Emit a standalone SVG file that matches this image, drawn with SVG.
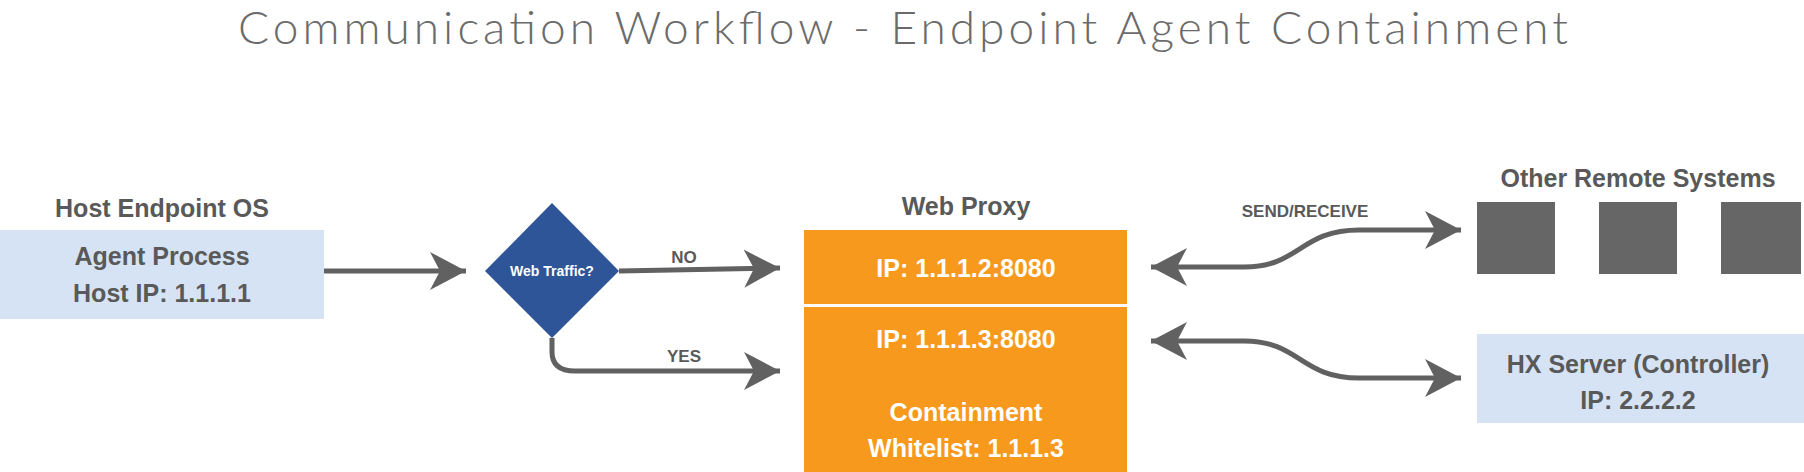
<svg xmlns="http://www.w3.org/2000/svg" width="1804" height="472" viewBox="0 0 1804 472">
<defs>
<style>
.t{font-family:"Liberation Sans",Arial,sans-serif;font-weight:bold;fill:#595959;text-anchor:middle}
.w{font-family:"Liberation Sans",Arial,sans-serif;font-weight:bold;fill:#fff;text-anchor:middle}
.c{fill:none;stroke:#616161;stroke-width:5}
</style>
<marker id="ah" markerUnits="userSpaceOnUse" markerWidth="40" markerHeight="40" viewBox="-36 -20 40 40" refX="0" refY="0" orient="auto-start-reverse">
<path d="M0,0 L-36,-19 L-26,0 L-36,19 Z" fill="#616161"/>
</marker>
</defs>
<rect width="1804" height="472" fill="#fff"/>
<text x="903" y="44" style="font-family:Lato,'Open Sans',sans-serif;font-weight:300;font-size:46px;fill:#6b6b6b;text-anchor:middle" textLength="1330">Communication Workflow - Endpoint Agent Containment</text>
<g id="host">
<text class="t" x="162" y="217" font-size="25">Host Endpoint OS</text>
<rect x="0" y="230" width="324" height="89" fill="#d6e3f4"/>
<text class="t" x="162" y="265" font-size="25">Agent Process</text>
<text class="t" x="162" y="302" font-size="25">Host IP: 1.1.1.1</text>
</g>
<g id="decision">
<polygon points="552,203 619,271 552,338 485,271" fill="#2e5597"/>
<text class="w" x="552" y="276" font-size="14">Web Traffic?</text>
</g>
<g id="proxy">
<text class="t" x="966" y="215" font-size="25">Web Proxy</text>
<rect x="804" y="230" width="323" height="74" fill="#f7991c"/>
<rect x="804" y="307" width="323" height="165" fill="#f7991c"/>
<text class="w" x="966" y="277" font-size="25">IP: 1.1.1.2:8080</text>
<text class="w" x="966" y="348" font-size="25">IP: 1.1.1.3:8080</text>
<text class="w" x="966" y="421" font-size="25">Containment</text>
<text class="w" x="966" y="457" font-size="25">Whitelist: 1.1.1.3</text>
</g>
<g id="remote">
<text class="t" x="1638" y="187" font-size="25">Other Remote Systems</text>
<rect x="1477" y="202" width="78" height="72" fill="#666"/>
<rect x="1599" y="202" width="78" height="72" fill="#666"/>
<rect x="1721" y="202" width="80" height="72" fill="#666"/>
</g>
<g id="hx">
<rect x="1477" y="334" width="327" height="89" fill="#d6e3f4"/>
<text class="t" x="1638" y="373" font-size="25">HX Server (Controller)</text>
<text class="t" x="1638" y="409" font-size="25">IP: 2.2.2.2</text>
</g>
<g id="connectors">
<path class="c" d="M324,271 H466" marker-end="url(#ah)"/>
<path class="c" d="M619,271 L780,268" marker-end="url(#ah)"/>
<path class="c" d="M552,338 V352 Q552,371 575,371 H780" marker-end="url(#ah)"/>
<path class="c" d="M1151,267 H1244 C1300,267 1300,230 1359,230 H1461" marker-start="url(#ah)" marker-end="url(#ah)"/>
<path class="c" d="M1151,341 H1244 C1300,341 1300,378 1359,378 H1461" marker-start="url(#ah)" marker-end="url(#ah)"/>
<text class="t" x="684" y="263" font-size="17">NO</text>
<text class="t" x="684" y="362" font-size="17">YES</text>
<text class="t" x="1305" y="217" font-size="17">SEND/RECEIVE</text>
</g>
</svg>
